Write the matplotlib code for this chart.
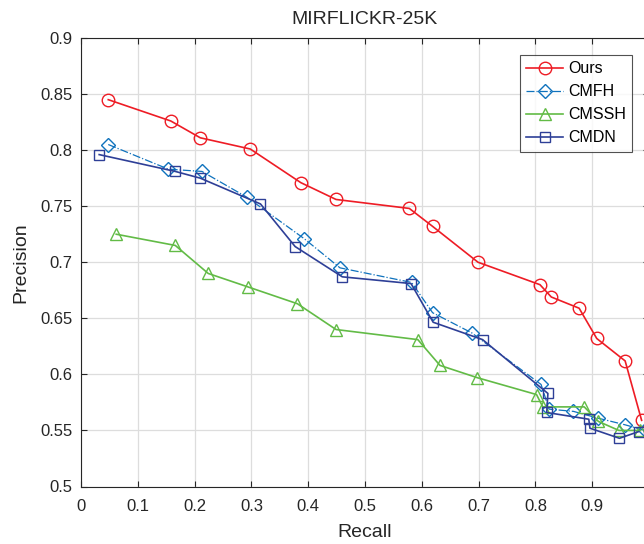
import numpy as np
import matplotlib
matplotlib.use('Agg')
import matplotlib.pyplot as plt

plt.rcParams['font.family'] = ['Liberation Sans', 'DejaVu Sans']

# --- DATA ---
ours_recall = [0.048, 0.158, 0.210, 0.298, 0.387, 0.449, 0.578, 0.619, 0.699, 0.808, 0.828, 0.877, 0.908, 0.958, 0.987]
ours_prec = [0.845, 0.826, 0.811, 0.801, 0.771, 0.756, 0.748, 0.732, 0.700, 0.680, 0.669, 0.659, 0.632, 0.612, 0.559]

cmfh_recall = [0.048, 0.154, 0.213, 0.292, 0.393, 0.456, 0.582, 0.619, 0.688, 0.810, 0.824, 0.867, 0.910, 0.958, 0.993]
cmfh_prec = [0.805, 0.783, 0.781, 0.758, 0.721, 0.695, 0.682, 0.655, 0.637, 0.591, 0.569, 0.567, 0.561, 0.555, 0.550]

cmssh_recall = [0.062, 0.166, 0.224, 0.294, 0.381, 0.449, 0.593, 0.632, 0.698, 0.802, 0.813, 0.886, 0.911, 0.947, 0.985]
cmssh_prec = [0.725, 0.715, 0.690, 0.678, 0.663, 0.640, 0.631, 0.608, 0.597, 0.582, 0.571, 0.571, 0.558, 0.550, 0.550]

cmdn_recall = [0.032, 0.166, 0.210, 0.316, 0.377, 0.460, 0.581, 0.620, 0.707, 0.822, 0.820, 0.894, 0.896, 0.948, 0.982]
cmdn_prec = [0.796, 0.781, 0.775, 0.752, 0.714, 0.687, 0.681, 0.6465, 0.631, 0.583, 0.566, 0.560, 0.552, 0.543, 0.549]

x_ticks = [0, 0.1, 0.2, 0.3, 0.4, 0.5, 0.6, 0.7, 0.8, 0.9, 1.0]
# the '1' label sits past the cropped right edge in the original
x_ticklabels = ['0', '0.1', '0.2', '0.3', '0.4', '0.5', '0.6', '0.7', '0.8', '0.9', '']
y_ticks = [0.5, 0.55, 0.6, 0.65, 0.7, 0.75, 0.8, 0.85, 0.9]
y_ticklabels = ['0.5', '0.55', '0.6', '0.65', '0.7', '0.75', '0.8', '0.85', '0.9']

# --- FIGURE ---
fig = plt.figure(figsize=(6.44, 5.44), dpi=100)
# axes runs past the right edge like the cropped original
ax = fig.add_axes([81 / 644, 57.5 / 544, 568 / 644, 448.5 / 544])

ms = 9
ax.plot(ours_recall, ours_prec, '-o', color='#EE1C25', lw=1.2, ms=ms,
        mfc='none', mew=1.0, label='Ours')
ax.plot(cmfh_recall, cmfh_prec, '-.D', color='#0F72BD', lw=0.9, ms=ms - 1.5,
        mfc='none', mew=1.0, label='CMFH')
ax.plot(cmssh_recall, cmssh_prec, '-^', color='#62BB46', lw=1.2, ms=ms,
        mfc='none', mew=1.0, label='CMSSH')
ax.plot(cmdn_recall, cmdn_prec, '-s', color='#2E3F97', lw=1.2, ms=ms - 1.5,
        mfc='none', mew=1.0, label='CMDN')

ax.set_xlim(0, 1)
ax.set_ylim(0.5, 0.9)
ax.set_xticks(x_ticks)
ax.set_xticklabels(x_ticklabels)
ax.set_yticks(y_ticks)
ax.set_yticklabels(y_ticklabels)
ax.tick_params(direction='in', top=True, right=True, labelsize=12, length=4,
               width=0.8, colors='#262626')
ax.tick_params(axis='x', pad=9)
ax.tick_params(axis='y', pad=6)
ax.grid(True, color='#DDDDDD', linewidth=0.9)
ax.set_axisbelow(True)
for s in ax.spines.values():
    s.set_color('#262626')
    s.set_linewidth(0.8)

ax.set_title('MIRFLICKR-25K', fontsize=14, color='#262626', pad=10)
ax.set_xlabel('Recall', fontsize=14, color='#262626', labelpad=7)
ax.set_ylabel('Precision', fontsize=14, color='#262626', labelpad=8)

leg = ax.legend(loc='upper left', bbox_to_anchor=((520 - 81) / 568, 1 - (55 - 38) / 448.5),
                fontsize=11.5, frameon=True, fancybox=False, edgecolor='#262626',
                handlelength=2.3, borderpad=0.4, labelspacing=0.5, handletextpad=0.3,
                borderaxespad=0)
leg.get_frame().set_linewidth(0.8)

fig.savefig('out.png', dpi=100)
